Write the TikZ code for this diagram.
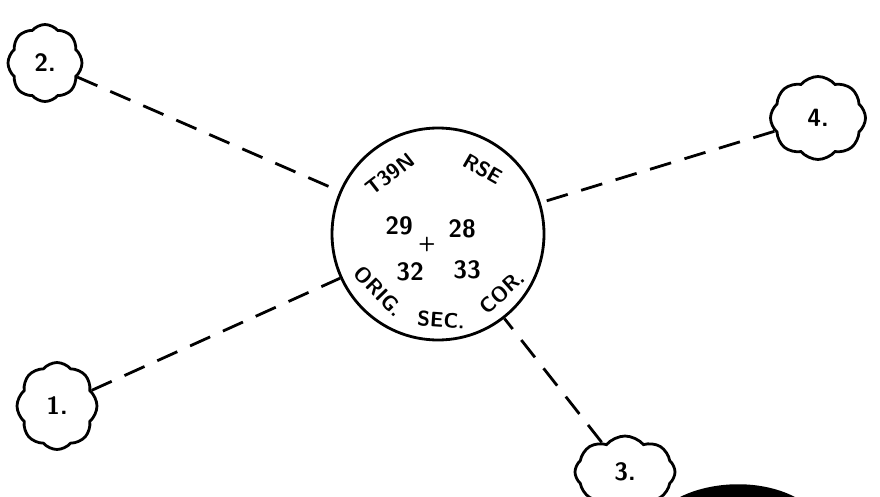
\documentclass[tikz,border=0pt]{standalone}
\usepackage{fontspec}
\usetikzlibrary{shapes.symbols}
\begin{document}
\begin{tikzpicture}[x=1pt, y=-1pt, line width=2.8pt,
  puff/.style={cloud, cloud puffs=8, cloud puff arc=100, cloud ignores aspect, draw, inner sep=0pt,
    font=\sffamily\bfseries\fontsize{25}{27}\selectfont},
  hand/.style={font=\sffamily\bfseries\fontsize{25}{27}\selectfont, inner sep=0pt},
  rim/.style={hand, font=\sffamily\bfseries\fontsize{21}{23}\selectfont}]
  \useasboundingbox (0,0) rectangle (880,497);
  % section corner
  \node[circle, draw, minimum size=212pt, inner sep=0pt] (sec) at (438,234) {};
  \node[rim, rotate=38]  (twp) at (390,174) {T39N};
  \node[rim, rotate=-30] (rng) at (483,169) {RSE};
  \node[hand] (s29) at (399,226) {29};
  \node[hand, font=\sffamily\bfseries\fontsize{20}{22}\selectfont] (crn) at (427,244) {+};
  \node[hand] (s28) at (462,229) {28};
  \node[hand] (s32) at (410,272) {32};
  \node[hand] (s33) at (467,270) {33};
  \node[rim, rotate=-46] (orig) at (379,291) {ORIG.};
  \node[rim, rotate=-4]  (sc)   at (441,320) {SEC.};
  \node[rim, rotate=42]  (cor)  at (502,292) {COR.};
  % clouds
  \node[puff, minimum width=74pt, minimum height=77pt]  (c2) at (45,63)   {2.};
  \node[puff, minimum width=95pt, minimum height=83pt]  (c4) at (818,118) {4.};
  \node[puff, minimum width=80pt, minimum height=87pt]  (c1) at (57,406)  {1.};
  \node[puff, minimum width=100pt, minimum height=72pt] (c3) at (625,472) {3.};
  \foreach \c in {c1,c2,c3,c4}
    \draw[dash pattern=on 22pt off 14pt] (\c) -- (sec);
  % scan smudge
  \fill (680,497) .. controls (712,481) and (760,479) .. (795,497) -- cycle;
\end{tikzpicture}
\end{document}
